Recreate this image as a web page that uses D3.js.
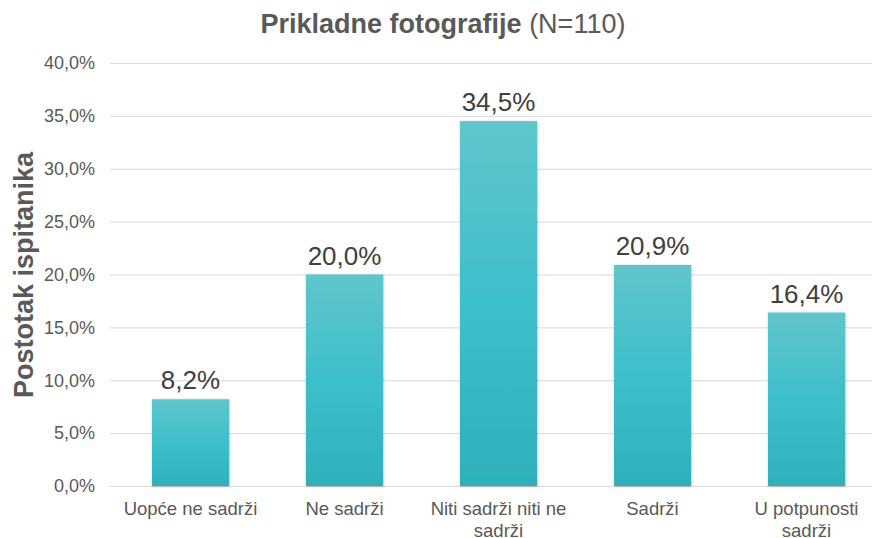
<!DOCTYPE html>
<html>
<head>
<meta charset="utf-8">
<script src="https://cdn.jsdelivr.net/npm/d3@7"></script>
<style>
  body { margin: 0; background: #fff; }
  svg { display: block; font-family: "Liberation Sans", Arial, sans-serif; }
</style>
</head>
<body>
<svg id="chart" width="872" height="538"></svg>
<script>
// data
const categories = ['Uopće ne sadrži', 'Ne sadrži', 'Niti sadrži niti ne sadrži', 'Sadrži', 'U potpunosti sadrži'];
const values = [8.2, 20.0, 34.5, 20.9, 16.4];
const yTicks = [0, 5, 10, 15, 20, 25, 30, 35, 40];

const svg = d3.select('#chart');
const fmt = v => d3.format('.1f')(v).replace('.', ',') + '%';

const x = d3.scaleBand().domain(categories).range([113.5, 883.5]).paddingInner(0.5).paddingOuter(0.25);
const y = d3.scaleLinear().domain([0, 40]).range([486, 63]);

// gradient + shadow
const defs = svg.append('defs');
const grad = defs.append('linearGradient').attr('id', 'barGrad').attr('x1', 0).attr('y1', 0).attr('x2', 0).attr('y2', 1);
grad.append('stop').attr('offset', '0%').attr('stop-color', '#60c5cc');
grad.append('stop').attr('offset', '50%').attr('stop-color', '#3dbfca');
grad.append('stop').attr('offset', '100%').attr('stop-color', '#2fb0ba');
const f = defs.append('filter').attr('id', 'shadow').attr('x', '-10%').attr('y', '-10%').attr('width', '120%').attr('height', '120%');
f.append('feDropShadow').attr('dx', 0.5).attr('dy', 0.5).attr('stdDeviation', 1).attr('flood-color', '#000').attr('flood-opacity', 0.3);

// title
const title = svg.append('text').attr('x', 443).attr('y', 33).attr('text-anchor', 'middle')
    .attr('font-size', 27).attr('fill', '#595959');
title.append('tspan').attr('font-weight', 'bold').text('Prikladne fotografije');
title.append('tspan').text(' (N=110)');

// grid + y axis
const yAxis = svg.append('g').attr('transform', 'translate(110,0)')
    .call(d3.axisLeft(y).tickValues(yTicks).tickSize(-762).tickPadding(15).tickFormat(fmt));
yAxis.select('.domain').remove();
yAxis.selectAll('line').attr('stroke', '#d9d9d9');
yAxis.selectAll('text').attr('font-size', 18).attr('fill', '#595959')
    .attr('font-family', '"Liberation Sans", Arial, sans-serif');

svg.append('text').attr('transform', 'translate(33,275) rotate(-90)').attr('text-anchor', 'middle')
    .attr('font-size', 27).attr('font-weight', 'bold').attr('fill', '#595959').text('Postotak ispitanika');

// bars
svg.append('g').selectAll('rect').data(values).join('rect')
    .attr('x', (d, i) => x(categories[i]))
    .attr('y', d => y(d))
    .attr('width', x.bandwidth())
    .attr('height', d => y(0) - y(d))
    .attr('fill', 'url(#barGrad)')
    .attr('filter', 'url(#shadow)');

// value labels
svg.append('g').selectAll('text').data(values).join('text')
    .attr('x', (d, i) => x(categories[i]) + x.bandwidth() / 2)
    .attr('y', d => y(d) - 10)
    .attr('text-anchor', 'middle')
    .attr('font-size', 26).attr('fill', '#404040')
    .text(fmt);

// category labels, wrapped
svg.append('g').selectAll('text').data(categories).join('text')
    .attr('x', d => x(d) + x.bandwidth() / 2)
    .attr('y', 515)
    .attr('text-anchor', 'middle')
    .attr('font-size', 18.5).attr('fill', '#595959')
    .each(function (d) {
        const t = d3.select(this);
        const cx = t.attr('x');
        const words = d.split(' ');
        const maxW = 152;
        let line = [];
        let ts = t.append('tspan').attr('x', cx).attr('dy', 0);
        words.forEach(w => {
            line.push(w);
            ts.text(line.join(' '));
            if (ts.node().getComputedTextLength() > maxW && line.length > 1) {
                line.pop();
                ts.text(line.join(' '));
                line = [w];
                ts = t.append('tspan').attr('x', cx).attr('dy', 22).text(w);
            }
        });
    });
</script>
</body>
</html>
